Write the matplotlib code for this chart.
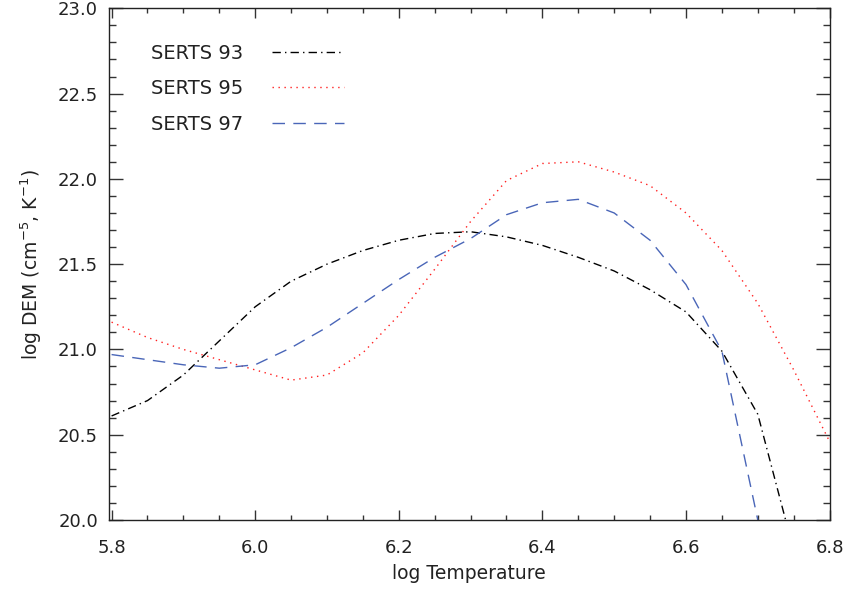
import matplotlib
matplotlib.use("Agg")
import matplotlib.pyplot as plt
from matplotlib.ticker import MultipleLocator

log_t = [5.80, 5.85, 5.90, 5.95, 6.00, 6.05, 6.10, 6.15, 6.20, 6.25, 6.30,
         6.35, 6.40, 6.45, 6.50, 6.55, 6.60, 6.65, 6.70, 6.75, 6.80]

serts93 = [20.61, 20.70, 20.85, 21.05, 21.25, 21.40, 21.50, 21.58, 21.64, 21.68, 21.69,
           21.66, 21.61, 21.54, 21.46, 21.35, 21.22, 20.99, 20.62, 19.82, 19.0]
serts95 = [21.16, 21.07, 21.00, 20.94, 20.88, 20.82, 20.85, 20.98, 21.20, 21.47, 21.75,
           21.99, 22.09, 22.10, 22.04, 21.96, 21.80, 21.58, 21.27, 20.88, 20.46]
serts97 = [20.97, 20.94, 20.91, 20.89, 20.91, 21.01, 21.13, 21.27, 21.41, 21.54, 21.65,
           21.79, 21.86, 21.88, 21.80, 21.64, 21.38, 20.99, 20.00, 19.0, 18.0]

labels = ["SERTS 93", "SERTS 95", "SERTS 97"]

plt.rcParams['font.family'] = ['DejaVu Sans']
fig = plt.figure(figsize=(8.49, 5.91), dpi=100)
ax = fig.add_axes([109/849, (591-520)/591, (829.6-109)/849, (520-8.3)/591])

ax.plot(log_t, serts93, color='black', lw=1.0, linestyle=(0, (6, 3, 1, 3)), label=labels[0])
ax.plot(log_t, serts95, color='#ff2020', lw=1.0, linestyle=(0, (1, 3.3)), label=labels[1])
ax.plot(log_t, serts97, color='#4a66b8', lw=1.0, linestyle=(0, (9, 6)), label=labels[2])

ax.set_xlim(5.7964, 6.8)
ax.set_ylim(20.0, 23.0)
ax.xaxis.set_major_locator(MultipleLocator(0.2))
ax.xaxis.set_minor_locator(MultipleLocator(0.05))
ax.yaxis.set_major_locator(MultipleLocator(0.5))
ax.yaxis.set_minor_locator(MultipleLocator(0.1))
ax.xaxis.set_major_formatter(matplotlib.ticker.FormatStrFormatter('%.1f'))
ax.yaxis.set_major_formatter(matplotlib.ticker.FormatStrFormatter('%.1f'))
ax.tick_params(which='both', direction='in', top=True, right=True, width=1.0,
               labelsize=13, color='#333333', labelcolor='#222222')
ax.tick_params(axis='x', which='major', length=7, pad=14)
ax.tick_params(axis='x', which='minor', length=3.5)
ax.tick_params(axis='y', which='major', length=10, pad=8)
ax.tick_params(axis='y', which='minor', length=5)
for s in ax.spines.values():
    s.set_linewidth(1.0)
    s.set_color('#222222')

ax.set_xlabel('log Temperature', fontsize=13.5, labelpad=5, color='#222222')
ax.set_ylabel('log DEM (cm$^{-5}$, K$^{-1}$)', fontsize=13.5, labelpad=10, color='#222222')

leg = ax.legend(loc='upper left', bbox_to_anchor=(0.034, 0.965), frameon=False,
                markerfirst=False, handlelength=3.7, handletextpad=1.5,
                labelspacing=0.85, fontsize=14)
for t in leg.get_texts():
    t.set_color('#222222')

fig.savefig('out.png', dpi=100)
